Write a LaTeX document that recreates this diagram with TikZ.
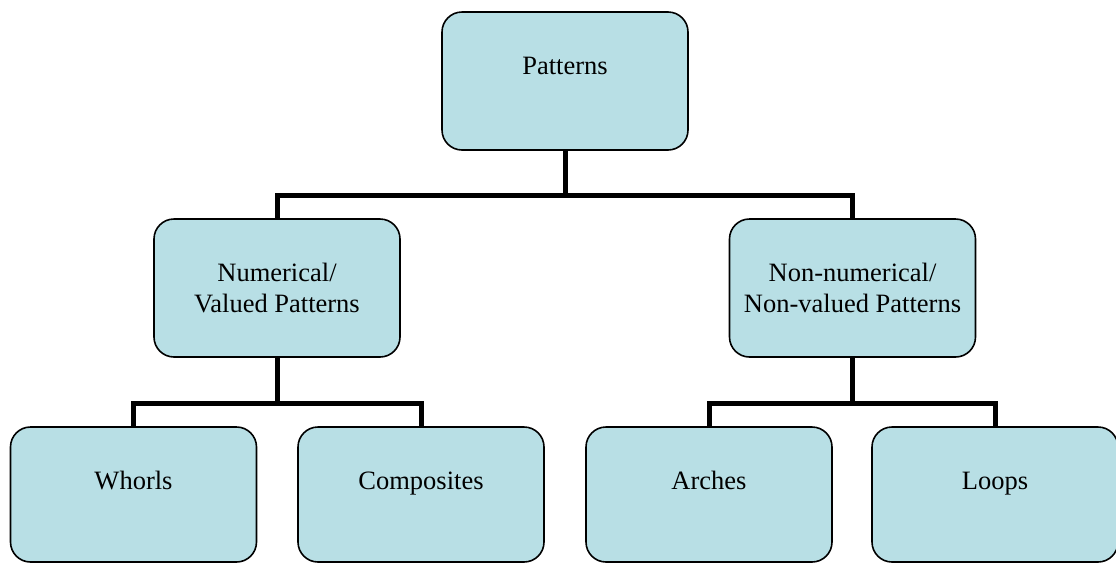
\documentclass[tikz,border=0pt]{standalone}
\usepackage{fontspec}
\setmainfont{Liberation Serif}
\definecolor{boxfill}{HTML}{B8DFE5}
\begin{document}
\begin{tikzpicture}[x=1pt,y=-1pt,
  box/.style={draw=black, line width=1.6pt, fill=boxfill, rounded corners=20pt,
    minimum width=246pt, minimum height=138pt, inner sep=0pt,
    align=center, font=\fontsize{26.5pt}{31pt}\selectfont},
  lowbox/.style={box, minimum height=135pt},
  txt/.style={inner sep=0pt, anchor=base, font=\fontsize{26.5pt}{31pt}\selectfont},
  conn/.style={draw=black, line width=5pt, line join=miter}]
\useasboundingbox (0,0) rectangle (1116,563);
% boxes
\node[box] (p) at (565,81) {};
\node[txt] (pt) at ([yshift=-63pt]p.north) {Patterns};
\node[box] (n) at (277,288) {Numerical/\\Valued Patterns};
\node[box] (nn) at (852.5,288) {Non-numerical/\\Non-valued Patterns};
\node[lowbox] (w) at (133.5,494.5) {};
\node[txt] (wt) at ([yshift=-63pt]w.north) {Whorls};
\node[lowbox] (c) at (421,494.5) {};
\node[txt] (ct) at ([yshift=-63pt]c.north) {Composites};
\node[lowbox] (a) at (709,494.5) {};
\node[txt] (at) at ([yshift=-63pt]a.north) {Arches};
\node[lowbox] (l) at (995,494.5) {};
\node[txt] (lt) at ([yshift=-63pt]l.north) {Loops};
% buses
\coordinate (b1) at (565,195);
\coordinate (b2) at (277,403);
\coordinate (b3) at (852.5,403);
% connectors
\draw[conn] (p.south) -- (b1);
\draw[conn] (n.north) |- (b1) -| (nn.north);
\draw[conn] (n.south) -- (b2);
\draw[conn] (w.north) |- (b2) -| (c.north);
\draw[conn] (nn.south) -- (b3);
\draw[conn] (a.north) |- (b3) -| (l.north);
\end{tikzpicture}
\end{document}
